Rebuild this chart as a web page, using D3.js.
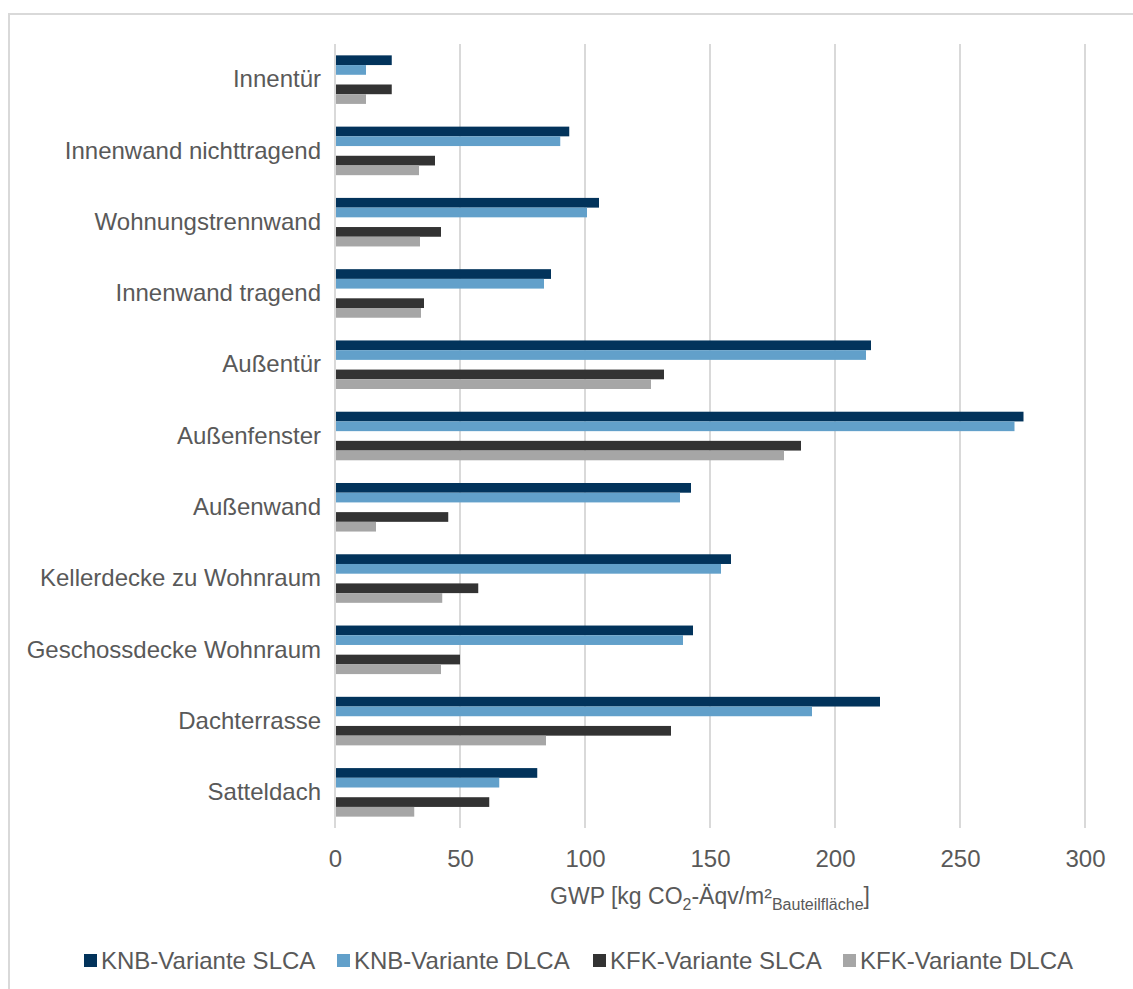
<!DOCTYPE html>
<html>
<head>
<meta charset="utf-8">
<script src="https://cdn.jsdelivr.net/npm/d3@7"></script>
<style>
  html, body { margin: 0; padding: 0; background: #fff; }
  svg { display: block; font-family: "Liberation Sans", Arial, sans-serif; }
</style>
</head>
<body>
<svg id="chart" width="1133" height="989"></svg>
<script>
// Building components, top to bottom
const categories = [
  "Innentür",
  "Innenwand nichttragend",
  "Wohnungstrennwand",
  "Innenwand tragend",
  "Außentür",
  "Außenfenster",
  "Außenwand",
  "Kellerdecke zu Wohnraum",
  "Geschossdecke Wohnraum",
  "Dachterrasse",
  "Satteldach"
];

// GWP values per series [kg CO2-Äqv/m² component area]
const knbSlca = [22.7, 93.7, 105.6, 86.4, 214.4, 275.4, 142.4, 158.4, 143.2, 218.0, 80.9];
const knbDlca = [12.4, 90.1, 100.8, 83.6, 212.4, 271.8, 138.0, 154.4, 139.2, 190.8, 65.7];
const kfkSlca = [22.7, 40.0, 42.4, 35.6, 131.6, 186.4, 45.3, 57.3, 50.0, 134.4, 61.7];
const kfkDlca = [12.4, 33.6, 34.0, 34.4, 126.4, 179.6, 16.4, 42.9, 42.4, 84.4, 31.7];

const seriesNames = ["KNB-Variante SLCA", "KNB-Variante DLCA", "KFK-Variante SLCA", "KFK-Variante DLCA"];
const seriesValues = [knbSlca, knbDlca, kfkSlca, kfkDlca];
const seriesColors = ["#02335B", "#62A0CA", "#333333", "#A6A6A6"];
// slot of each series inside a category band (slot 2 stays empty)
const seriesSlots = [0, 1, 3, 4];

const xTicks = [0, 50, 100, 150, 200, 250, 300];

const svg = d3.select("#chart");
const textColor = "#595959";
const gridColor = "#D9D9D9";

const plot = { left: 335, right: 1085, top: 44, bottom: 828 };

// Outer frame
svg.append("rect")
  .attr("x", 9).attr("y", 14)
  .attr("width", 1200).attr("height", 1100)
  .attr("fill", "none")
  .attr("stroke", gridColor)
  .attr("stroke-width", 2);

const x = d3.scaleLinear().domain([0, 300]).range([plot.left, plot.right]);
const y = d3.scaleBand().domain(categories).range([plot.top, plot.bottom]).padding(0);
const slot = d3.scaleBand().domain([0, 1, 2, 3, 4]).range([0, y.bandwidth()])
  .paddingInner(0).paddingOuter(1.17);

// Vertical gridlines
svg.append("g")
  .selectAll("line")
  .data(xTicks)
  .join("line")
  .attr("x1", d => x(d)).attr("x2", d => x(d))
  .attr("y1", plot.top).attr("y2", plot.bottom)
  .attr("stroke", gridColor)
  .attr("stroke-width", 2);

// Bars
seriesValues.forEach((vals, si) => {
  svg.append("g")
    .selectAll("rect")
    .data(vals)
    .join("rect")
    .attr("x", x(0) + 1)
    .attr("y", (d, i) => y(categories[i]) + slot(seriesSlots[si]))
    .attr("width", d => x(d) - x(0) - 1)
    .attr("height", slot.bandwidth())
    .attr("fill", seriesColors[si]);
});

// X axis tick labels
const xAxis = d3.axisBottom(x).tickValues(xTicks).tickSize(0).tickPadding(0);
const gx = svg.append("g")
  .attr("transform", `translate(0, ${plot.bottom + 39})`)
  .call(xAxis);
gx.select(".domain").remove();
gx.selectAll("text")
  .attr("dy", 0)
  .attr("fill", textColor)
  .style("font-size", "24px");

// Y axis category labels
const yAxis = d3.axisLeft(y).tickSize(0).tickPadding(14);
const gy = svg.append("g")
  .attr("transform", `translate(${plot.left}, 0)`)
  .call(yAxis);
gy.select(".domain").remove();
gy.selectAll("text")
  .attr("fill", textColor)
  .style("font-size", "24px");

// Axis title
const title = svg.append("text")
  .attr("x", (plot.left + plot.right) / 2)
  .attr("y", 904)
  .attr("text-anchor", "middle")
  .attr("fill", textColor)
  .style("font-size", "23px");
title.append("tspan").text("GWP [kg CO");
title.append("tspan").text("2").attr("dy", 6).style("font-size", "16px");
title.append("tspan").text("-Äqv/m²").attr("dy", -6);
title.append("tspan").text("Bauteilfläche").attr("dy", 6).style("font-size", "16px");
title.append("tspan").text("]").attr("dy", -6);

// Legend
const legendX = [84, 337, 593, 843];
const legend = svg.append("g");
seriesNames.forEach((name, i) => {
  const g = legend.append("g").attr("transform", `translate(${legendX[i]}, 961)`);
  g.append("rect")
    .attr("x", 0).attr("y", -7)
    .attr("width", 13).attr("height", 13)
    .attr("fill", seriesColors[i]);
  g.append("text")
    .attr("x", 17).attr("y", 0)
    .attr("dy", "0.35em")
    .attr("fill", textColor)
    .style("font-size", "24px")
    .text(name);
});
</script>
</body>
</html>
